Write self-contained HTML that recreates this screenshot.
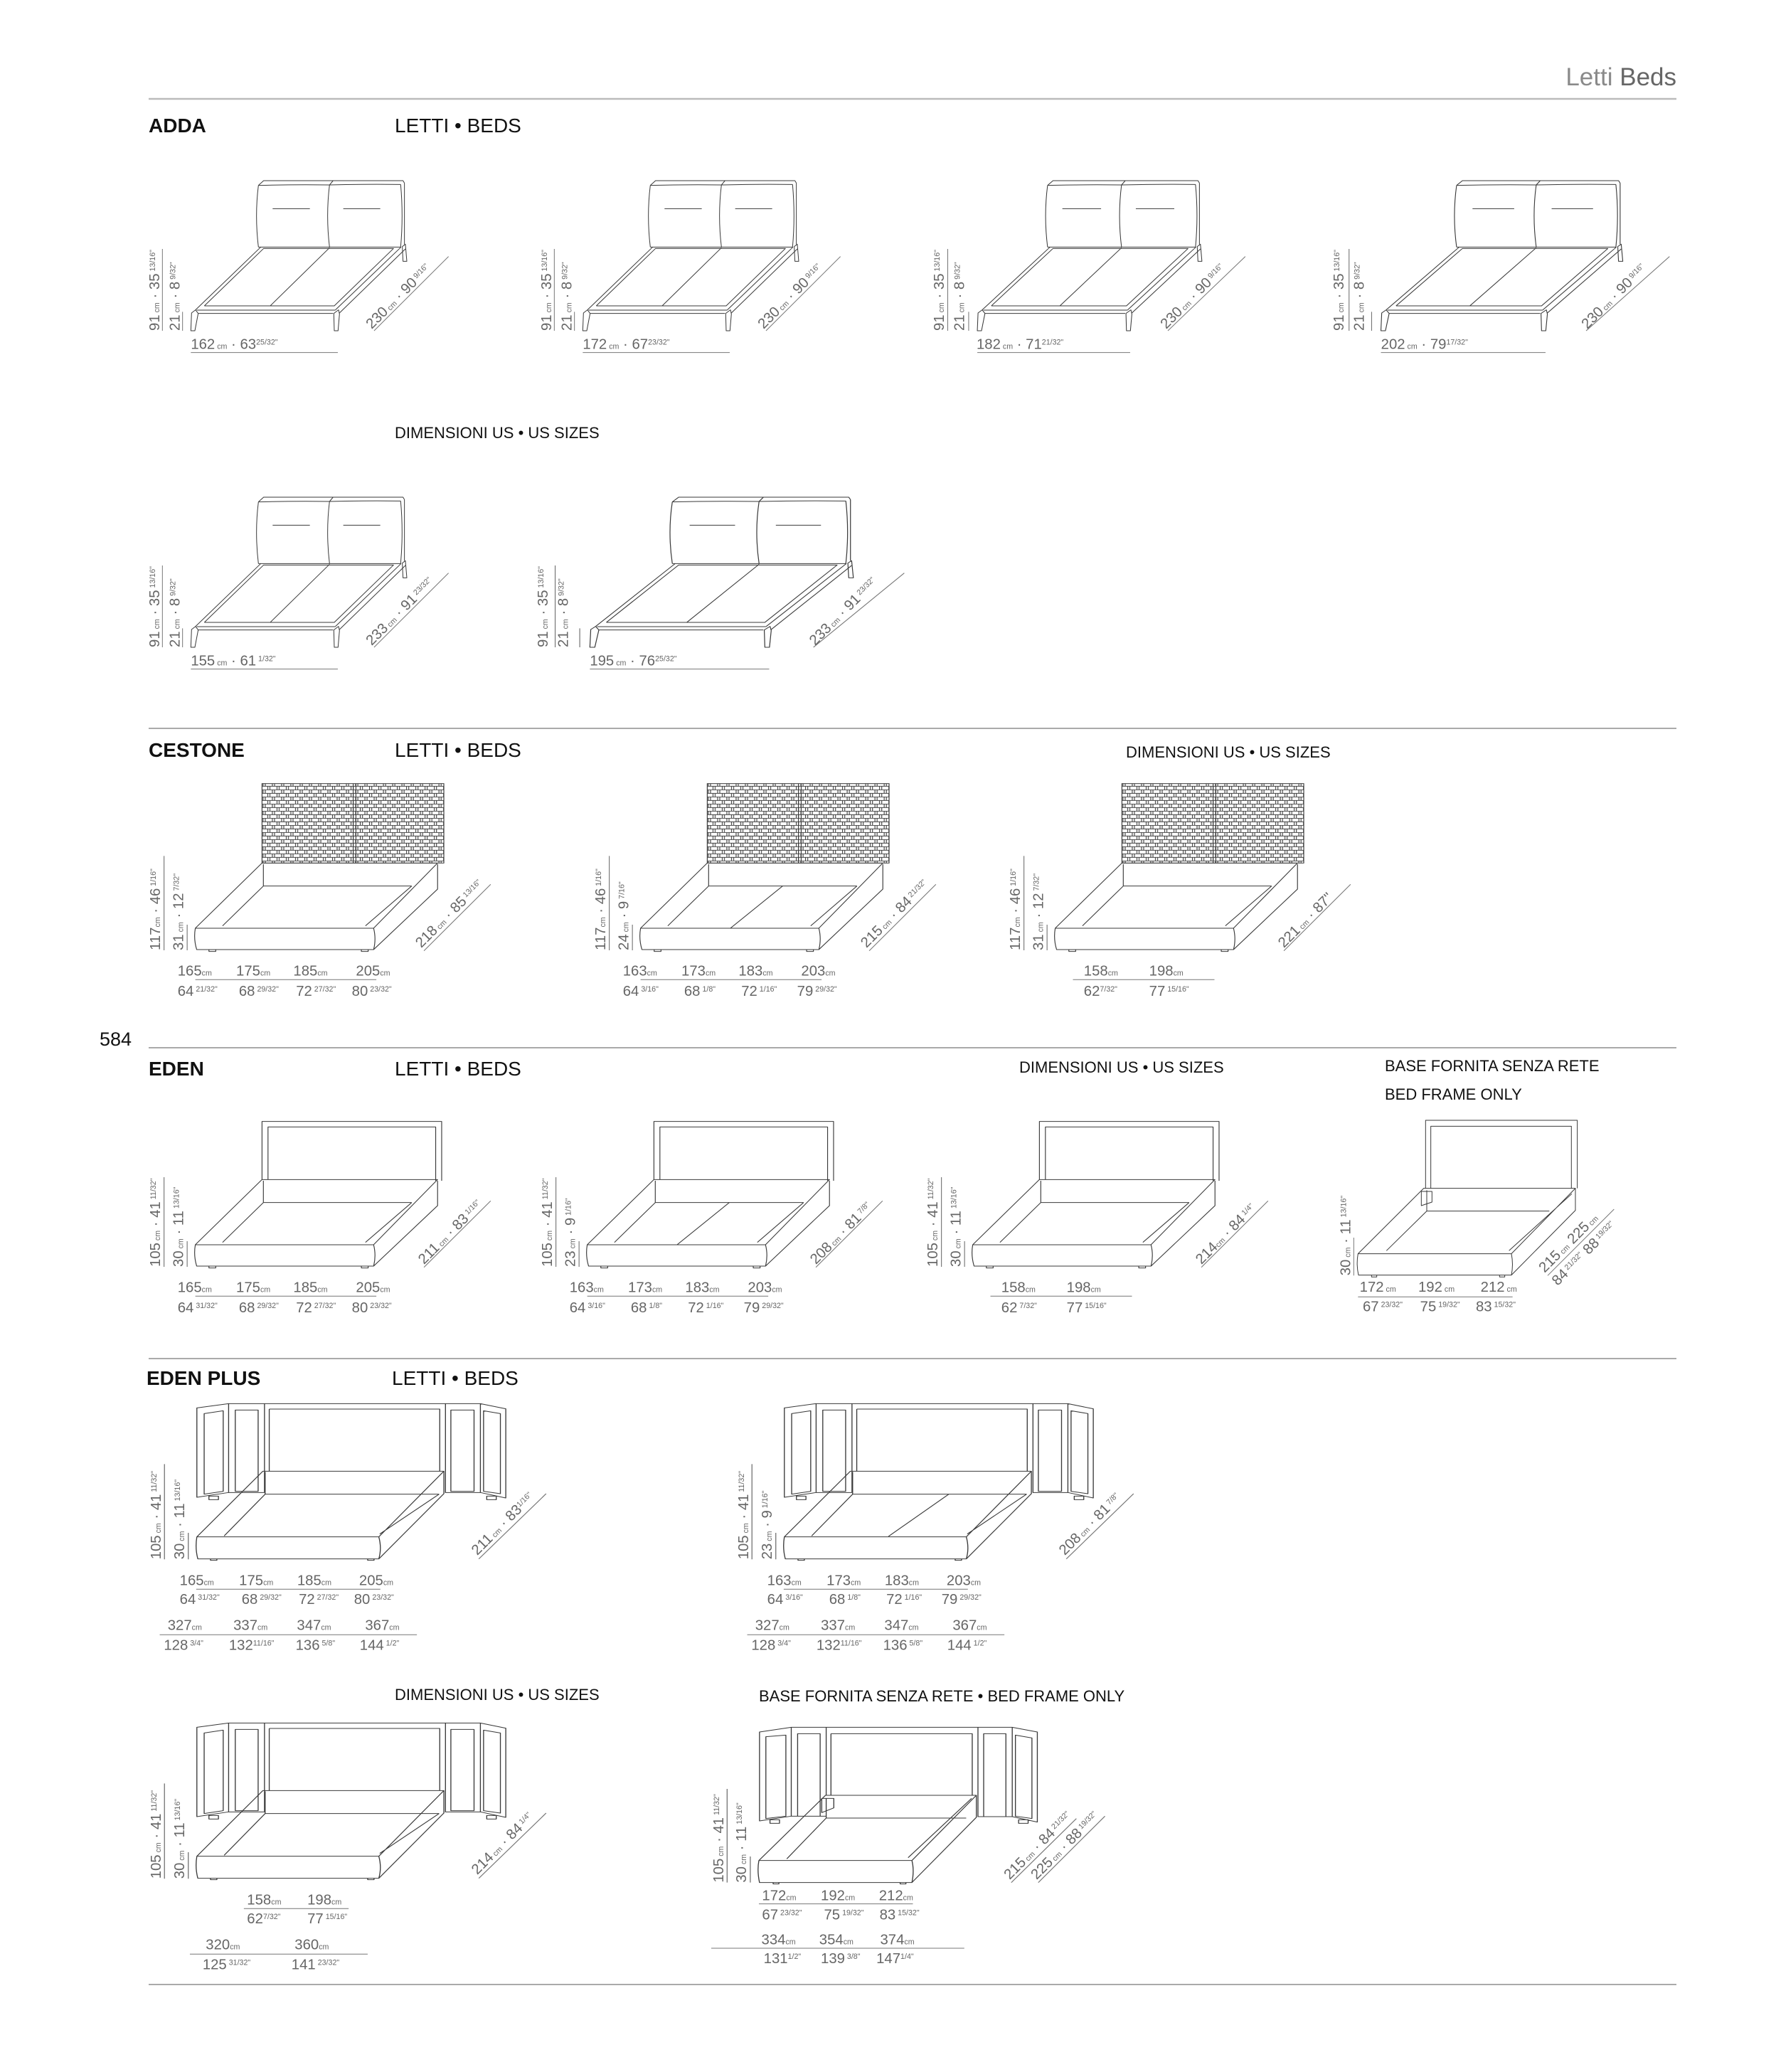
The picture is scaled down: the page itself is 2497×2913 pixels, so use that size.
<!DOCTYPE html>
<html><head><meta charset="utf-8"><style>
html,body{margin:0;padding:0;background:#fff}
svg{display:block}
.l{fill:none;stroke:#3a3a3a;stroke-width:3;stroke-linejoin:round}
.d{fill:none;stroke:#777;stroke-width:3}
.t{font-family:"Liberation Sans",sans-serif;font-size:61px;fill:#666}
.s{font-size:32px}
.h{font-family:"Liberation Sans",sans-serif;fill:#111}
</style></head><body>
<svg width="2497" height="2913" viewBox="0 0 2497 2913" xmlns="http://www.w3.org/2000/svg">
<defs>
<pattern id="wv" width="34" height="30" patternUnits="userSpaceOnUse">
<path d="M0,1H34 M0,16H34 M2,1V16 M19,16V30 M10,1V16 M27,16V30" stroke="#444" stroke-width="3" fill="none"/>
</pattern>
<g id="adda">
<path class="l" d="M490,92 L512,72 H1100 L1106,82 M805,72 L790,90 M490,92 Q640,88 790,90 Q940,86 1090,88 M490,92 Q474,220 490,352 M790,90 Q774,220 790,352 M1090,88 Q1102,220 1090,352 M1106,82 V340 M550,190 H707 M848,190 H1004 M490,352 H1090 M225,617 L500,352 M815,617 L1092,352 M830,632 L1110,360 M262,600 L512,358 H1060 L810,600 H262 M540,600 L790,355 M230,618 H815 M235,632 H805 M205,705 L208,630 L225,617 L236,632 L222,705 Z M810,705 L808,632 L828,617 L832,634 L826,705 Z M1100,412 L1097,350 L1110,340 L1116,412 Z"/>
<path class="d" d="M85,360 V705 M170,625 V705 M205,797 H825 M978,705 L1292,392"/>
</g>
<g id="base">
<path class="l" d="M195,615 H850 Q860,660 850,705 H200 Q188,660 195,615 Z M195,615 L440,340 H1085 L850,615 M1085,345 V450 L850,705 M445,345 V437 H990 M445,437 L295,605 M990,437 L820,605 M245,705 h25 v8 h-25 Z M805,705 h25 v8 h-25 Z"/>
</g>
<g id="cesthb">
<rect x="440" y="5" width="668" height="335" style="fill:url(#wv);stroke:#3a3a3a;stroke-width:3"/>
<path class="l" d="M775,5 V340 M785,5 V340"/>
</g>
<g id="edenhb">
<path class="l" d="M440,340 V95 H1100 V345 M462,340 V118 H1078 V345"/>
</g>
<g id="eplus">
<path class="l" d="M172,88 L272,70 V445 L172,465 Z M195,112 L255,100 V440 L195,452 Z M272,70 H1065 M272,445 H385 M293,97 H365 V440 H293 Z M385,70 V445 M400,93 H937 V355 M400,93 V355 M955,70 V445 H1065 M972,97 H1045 V440 H972 Z M1065,70 L1145,92 V468 L1065,445 Z M1075,100 L1128,112 V450 L1075,440 Z M210,460 h30 v15 h-30 Z M1085,460 h30 v15 h-30 Z"/>
<path class="l" d="M172,632 H745 Q755,680 745,725 H175 Q166,680 172,632 Z M172,632 L380,355 H950 L745,632 M950,355 V450 L745,725 M387,358 V452 H935 M387,452 L258,628 M935,452 L748,620 M215,725 h20 v6 h-20 Z M710,725 h20 v6 h-20 Z"/>
</g>
<g id="eplusf">
<path class="l" d="M152,165 L252,145 V520 L152,540 Z M172,185 L235,178 V520 L172,530 Z M252,145 H948 M252,520 H362 M272,172 H343 V520 H272 Z M362,145 V432 M377,172 H822 V432 M377,172 V432 M840,145 V522 H948 M858,172 H928 V522 H858 Z M948,145 L1027,165 V545 L948,522 Z M958,178 L1010,190 V530 L958,520 Z M185,535 h30 v15 h-30 Z M968,535 h30 v15 h-30 Z"/>
<path class="l" d="M150,707 H632 Q640,750 632,800 H152 Q144,750 150,707 Z M150,707 L360,432 H835 L632,707 M835,432 V525 L632,800 M362,445 V528 H803 M362,528 L238,700 M820,445 L620,695 M348,445 h38 v40 l-38,20 Z M195,800 h18 v6 h-18 Z M595,800 h18 v6 h-18 Z"/>
</g>
</defs>

<text class="h" x="2357" y="120" text-anchor="end" font-size="35"><tspan fill="#8a8a8a">Letti </tspan><tspan fill="#666">Beds</tspan></text>
<path d="M209,139 H2357" stroke="#bbb" stroke-width="2.5"/>
<path d="M209,1024 H2357 M209,1473 H2357 M209,1910 H2357 M209,2790 H2357" stroke="#aaa" stroke-width="2"/>
<text class="h" x="140" y="1470" font-size="27">584</text>

<text class="h" x="209" y="186" font-size="28" font-weight="bold">ADDA</text>
<text class="h" x="555" y="186" font-size="28">LETTI • BEDS</text>
<text class="h" x="555" y="616" font-size="22">DIMENSIONI US • US SIZES</text>
<text class="h" x="209" y="1064" font-size="28" font-weight="bold">CESTONE</text>
<text class="h" x="555" y="1064" font-size="28">LETTI • BEDS</text>
<text class="h" x="1583" y="1065" font-size="22">DIMENSIONI US • US SIZES</text>
<text class="h" x="209" y="1512" font-size="28" font-weight="bold">EDEN</text>
<text class="h" x="555" y="1512" font-size="28">LETTI • BEDS</text>
<text class="h" x="1433" y="1508" font-size="22">DIMENSIONI US • US SIZES</text>
<text class="h" x="1947" y="1506" font-size="22">BASE FORNITA SENZA RETE</text>
<text class="h" x="1947" y="1546" font-size="22">BED FRAME ONLY</text>
<text class="h" x="206" y="1947" font-size="28" font-weight="bold">EDEN PLUS</text>
<text class="h" x="551" y="1947" font-size="28">LETTI • BEDS</text>
<text class="h" x="555" y="2390" font-size="22">DIMENSIONI US • US SIZES</text>
<text class="h" x="1067" y="2392" font-size="22">BASE FORNITA SENZA RETE • BED FRAME ONLY</text>

<g transform="translate(200,230) scale(0.3333)">
<use href="#adda"/>
<text class="t" transform="translate(72,705) rotate(-90)">91<tspan class="s"> cm</tspan> · 35<tspan class="s" dy="-18"> 13/16"</tspan></text>
<text class="t" transform="translate(157,705) rotate(-90)">21<tspan class="s"> cm</tspan> · 8<tspan class="s" dy="-18"> 9/32"</tspan></text>
<text class="t" x="205" y="782">162<tspan class="s"> cm</tspan> · 63<tspan class="s" dy="-18">25/32"</tspan></text>
<text class="t" transform="translate(968,700) rotate(-45)">230<tspan class="s"> cm</tspan> · 90<tspan class="s" dy="-18"> 9/16"</tspan></text>
</g>
<g transform="translate(751,230) scale(0.3333)">
<use href="#adda"/>
<text class="t" transform="translate(72,705) rotate(-90)">91<tspan class="s"> cm</tspan> · 35<tspan class="s" dy="-18"> 13/16"</tspan></text>
<text class="t" transform="translate(157,705) rotate(-90)">21<tspan class="s"> cm</tspan> · 8<tspan class="s" dy="-18"> 9/32"</tspan></text>
<text class="t" x="205" y="782">172<tspan class="s"> cm</tspan> · 67<tspan class="s" dy="-18">23/32"</tspan></text>
<text class="t" transform="translate(968,700) rotate(-45)">230<tspan class="s"> cm</tspan> · 90<tspan class="s" dy="-18"> 9/16"</tspan></text>
</g>
<g transform="translate(1303,230) scale(0.3333)">
<use href="#adda" transform="scale(1.04,1)"/>
<text class="t" transform="translate(72,705) rotate(-90)">91<tspan class="s"> cm</tspan> · 35<tspan class="s" dy="-18"> 13/16"</tspan></text>
<text class="t" transform="translate(157,705) rotate(-90)">21<tspan class="s"> cm</tspan> · 8<tspan class="s" dy="-18"> 9/32"</tspan></text>
<text class="t" x="210" y="782">182<tspan class="s"> cm</tspan> · 71<tspan class="s" dy="-18">21/32"</tspan></text>
<text class="t" transform="translate(1010,700) rotate(-45)">230<tspan class="s"> cm</tspan> · 90<tspan class="s" dy="-18"> 9/16"</tspan></text>
</g>
<g transform="translate(1865,230) scale(0.3333)">
<use href="#adda" transform="scale(1.12,1)"/>
<text class="t" transform="translate(72,705) rotate(-90)">91<tspan class="s"> cm</tspan> · 35<tspan class="s" dy="-18"> 13/16"</tspan></text>
<text class="t" transform="translate(157,705) rotate(-90)">21<tspan class="s"> cm</tspan> · 8<tspan class="s" dy="-18"> 9/32"</tspan></text>
<text class="t" x="230" y="782">202<tspan class="s"> cm</tspan> · 79<tspan class="s" dy="-18">17/32"</tspan></text>
<text class="t" transform="translate(1100,700) rotate(-45)">230<tspan class="s"> cm</tspan> · 90<tspan class="s" dy="-18"> 9/16"</tspan></text>
</g>
<g transform="translate(200,675) scale(0.3333)">
<use href="#adda"/>
<text class="t" transform="translate(72,705) rotate(-90)">91<tspan class="s"> cm</tspan> · 35<tspan class="s" dy="-18"> 13/16"</tspan></text>
<text class="t" transform="translate(157,705) rotate(-90)">21<tspan class="s"> cm</tspan> · 8<tspan class="s" dy="-18"> 9/32"</tspan></text>
<text class="t" x="205" y="782">155<tspan class="s"> cm</tspan> · 61<tspan class="s" dy="-18"> 1/32"</tspan></text>
<text class="t" transform="translate(968,700) rotate(-45)">233<tspan class="s"> cm</tspan> · 91<tspan class="s" dy="-18"> 23/32"</tspan></text>
</g>
<g transform="translate(746,675) scale(0.3333)">
<use href="#adda" transform="scale(1.22,1)"/>
<text class="t" transform="translate(72,705) rotate(-90)">91<tspan class="s"> cm</tspan> · 35<tspan class="s" dy="-18"> 13/16"</tspan></text>
<text class="t" transform="translate(157,705) rotate(-90)">21<tspan class="s"> cm</tspan> · 8<tspan class="s" dy="-18"> 9/32"</tspan></text>
<text class="t" x="250" y="782">195<tspan class="s"> cm</tspan> · 76<tspan class="s" dy="-18">25/32"</tspan></text>
<text class="t" transform="translate(1200,700) rotate(-45)">233<tspan class="s"> cm</tspan> · 91<tspan class="s" dy="-18"> 23/32"</tspan></text>
</g>

<g transform="translate(200,1100) scale(0.3827,0.3333)">
<use href="#cesthb"/><use href="#base"/>
<path class="d" d="M80,310 V708 M165,600 V708 M195,832 H860 M1035,710 L1280,430"/>
<text class="t" transform="translate(65,708) scale(.871,1) rotate(-90)">117<tspan class="s">cm</tspan> · 46<tspan class="s" dy="-18"> 1/16"</tspan></text>
<text class="t" transform="translate(150,708) scale(.871,1) rotate(-90)">31<tspan class="s"> cm</tspan> · 12<tspan class="s" dy="-18"> 7/32"</tspan></text>
<text class="t" transform="translate(130,815) scale(.871,1)">165<tspan class="s">cm</tspan></text>
<text class="t" transform="translate(345,815) scale(.871,1)">175<tspan class="s">cm</tspan></text>
<text class="t" transform="translate(555,815) scale(.871,1)">185<tspan class="s">cm</tspan></text>
<text class="t" transform="translate(785,815) scale(.871,1)">205<tspan class="s">cm</tspan></text>
<text class="t" transform="translate(130,900) scale(.871,1)">64<tspan class="s" dy="-18"> 21/32"</tspan></text>
<text class="t" transform="translate(355,900) scale(.871,1)">68<tspan class="s" dy="-18"> 29/32"</tspan></text>
<text class="t" transform="translate(565,900) scale(.871,1)">72<tspan class="s" dy="-18"> 27/32"</tspan></text>
<text class="t" transform="translate(770,900) scale(.871,1)">80<tspan class="s" dy="-18"> 23/32"</tspan></text>
<text class="t" transform="translate(1025,700) scale(.871,1) rotate(-45)">218<tspan class="s"> cm</tspan> · 85<tspan class="s" dy="-18"> 13/16"</tspan></text>
</g>
<g transform="translate(826,1100) scale(0.3827,0.3333)">
<use href="#cesthb"/><use href="#base"/>
<path class="l" d="M717,437 L525,615"/>
<path class="d" d="M80,310 V708 M165,600 V708 M195,832 H860 M1035,710 L1280,430"/>
<text class="t" transform="translate(65,708) scale(.871,1) rotate(-90)">117<tspan class="s">cm</tspan> · 46<tspan class="s" dy="-18"> 1/16"</tspan></text>
<text class="t" transform="translate(150,708) scale(.871,1) rotate(-90)">24<tspan class="s"> cm</tspan> · 9<tspan class="s" dy="-18"> 7/16"</tspan></text>
<text class="t" transform="translate(130,815) scale(.871,1)">163<tspan class="s">cm</tspan></text>
<text class="t" transform="translate(345,815) scale(.871,1)">173<tspan class="s">cm</tspan></text>
<text class="t" transform="translate(555,815) scale(.871,1)">183<tspan class="s">cm</tspan></text>
<text class="t" transform="translate(785,815) scale(.871,1)">203<tspan class="s">cm</tspan></text>
<text class="t" transform="translate(130,900) scale(.871,1)">64<tspan class="s" dy="-18"> 3/16"</tspan></text>
<text class="t" transform="translate(355,900) scale(.871,1)">68<tspan class="s" dy="-18"> 1/8"</tspan></text>
<text class="t" transform="translate(565,900) scale(.871,1)">72<tspan class="s" dy="-18"> 1/16"</tspan></text>
<text class="t" transform="translate(770,900) scale(.871,1)">79<tspan class="s" dy="-18"> 29/32"</tspan></text>
<text class="t" transform="translate(1025,700) scale(.871,1) rotate(-45)">215<tspan class="s"> cm</tspan> · 84<tspan class="s" dy="-18"> 21/32"</tspan></text>
</g>
<g transform="translate(1409,1100) scale(0.3827,0.3333)">
<use href="#cesthb"/><use href="#base"/>
<path class="d" d="M80,310 V708 M165,600 V708 M260,832 H780 M1035,710 L1280,430"/>
<text class="t" transform="translate(65,708) scale(.871,1) rotate(-90)">117<tspan class="s">cm</tspan> · 46<tspan class="s" dy="-18"> 1/16"</tspan></text>
<text class="t" transform="translate(150,708) scale(.871,1) rotate(-90)">31<tspan class="s"> cm</tspan> · 12<tspan class="s" dy="-18"> 7/32"</tspan></text>
<text class="t" transform="translate(300,815) scale(.871,1)">158<tspan class="s">cm</tspan></text>
<text class="t" transform="translate(540,815) scale(.871,1)">198<tspan class="s">cm</tspan></text>
<text class="t" transform="translate(300,900) scale(.871,1)">62<tspan class="s" dy="-18">7/32"</tspan></text>
<text class="t" transform="translate(540,900) scale(.871,1)">77<tspan class="s" dy="-18"> 15/16"</tspan></text>
<text class="t" transform="translate(1035,700) scale(.871,1) rotate(-45)">221<tspan class="s"> cm</tspan> · 87"</text>
</g>

<g transform="translate(200,1545) scale(0.3827,0.3333)">
<use href="#edenhb"/><use href="#base"/>
<path class="d" d="M80,330 V708 M165,600 V708 M195,832 H860 M1035,710 L1280,430"/>
<text class="t" transform="translate(65,708) scale(.871,1) rotate(-90)">105<tspan class="s"> cm</tspan> · 41<tspan class="s" dy="-18"> 11/32"</tspan></text>
<text class="t" transform="translate(150,708) scale(.871,1) rotate(-90)">30<tspan class="s"> cm</tspan> · 11<tspan class="s" dy="-18"> 13/16"</tspan></text>
<text class="t" transform="translate(130,815) scale(.871,1)">165<tspan class="s">cm</tspan></text>
<text class="t" transform="translate(345,815) scale(.871,1)">175<tspan class="s">cm</tspan></text>
<text class="t" transform="translate(555,815) scale(.871,1)">185<tspan class="s">cm</tspan></text>
<text class="t" transform="translate(785,815) scale(.871,1)">205<tspan class="s">cm</tspan></text>
<text class="t" transform="translate(130,900) scale(.871,1)">64<tspan class="s" dy="-18"> 31/32"</tspan></text>
<text class="t" transform="translate(355,900) scale(.871,1)">68<tspan class="s" dy="-18"> 29/32"</tspan></text>
<text class="t" transform="translate(565,900) scale(.871,1)">72<tspan class="s" dy="-18"> 27/32"</tspan></text>
<text class="t" transform="translate(770,900) scale(.871,1)">80<tspan class="s" dy="-18"> 23/32"</tspan></text>
<text class="t" transform="translate(1035,700) scale(.871,1) rotate(-45)">211<tspan class="s"> cm</tspan> · 83<tspan class="s" dy="-18"> 1/16"</tspan></text>
</g>
<g transform="translate(751,1545) scale(0.3827,0.3333)">
<use href="#edenhb"/><use href="#base"/>
<path class="l" d="M717,437 L525,615"/>
<path class="d" d="M80,330 V708 M165,600 V708 M195,832 H860 M1035,710 L1280,430"/>
<text class="t" transform="translate(65,708) scale(.871,1) rotate(-90)">105<tspan class="s"> cm</tspan> · 41<tspan class="s" dy="-18"> 11/32"</tspan></text>
<text class="t" transform="translate(150,708) scale(.871,1) rotate(-90)">23<tspan class="s"> cm</tspan> · 9<tspan class="s" dy="-18"> 1/16"</tspan></text>
<text class="t" transform="translate(130,815) scale(.871,1)">163<tspan class="s">cm</tspan></text>
<text class="t" transform="translate(345,815) scale(.871,1)">173<tspan class="s">cm</tspan></text>
<text class="t" transform="translate(555,815) scale(.871,1)">183<tspan class="s">cm</tspan></text>
<text class="t" transform="translate(785,815) scale(.871,1)">203<tspan class="s">cm</tspan></text>
<text class="t" transform="translate(130,900) scale(.871,1)">64<tspan class="s" dy="-18"> 3/16"</tspan></text>
<text class="t" transform="translate(355,900) scale(.871,1)">68<tspan class="s" dy="-18"> 1/8"</tspan></text>
<text class="t" transform="translate(565,900) scale(.871,1)">72<tspan class="s" dy="-18"> 1/16"</tspan></text>
<text class="t" transform="translate(770,900) scale(.871,1)">79<tspan class="s" dy="-18"> 29/32"</tspan></text>
<text class="t" transform="translate(1035,700) scale(.871,1) rotate(-45)">208<tspan class="s"> cm</tspan> · 81<tspan class="s" dy="-18"> 7/8"</tspan></text>
</g>
<g transform="translate(1293,1545) scale(0.3827,0.3333)">
<use href="#edenhb"/><use href="#base"/>
<path class="d" d="M80,330 V708 M165,600 V708 M260,832 H780 M1035,710 L1280,430"/>
<text class="t" transform="translate(65,708) scale(.871,1) rotate(-90)">105<tspan class="s"> cm</tspan> · 41<tspan class="s" dy="-18"> 11/32"</tspan></text>
<text class="t" transform="translate(150,708) scale(.871,1) rotate(-90)">30<tspan class="s"> cm</tspan> · 11<tspan class="s" dy="-18"> 13/16"</tspan></text>
<text class="t" transform="translate(300,815) scale(.871,1)">158<tspan class="s">cm</tspan></text>
<text class="t" transform="translate(540,815) scale(.871,1)">198<tspan class="s">cm</tspan></text>
<text class="t" transform="translate(300,900) scale(.871,1)">62<tspan class="s" dy="-18"> 7/32"</tspan></text>
<text class="t" transform="translate(540,900) scale(.871,1)">77<tspan class="s" dy="-18"> 15/16"</tspan></text>
<text class="t" transform="translate(1035,700) scale(.871,1) rotate(-45)">214<tspan class="s">cm</tspan> · 84<tspan class="s" dy="-18"> 1/4"</tspan></text>
</g>
<g transform="translate(1900,1480) scale(0.3333)">
<path class="l" d="M313,572 V285 H953 V572 M335,572 V310 H928 V572"/>
<path class="l" d="M28,848 H675 Q684,893 675,938 H30 Q20,893 28,848 Z M28,848 L305,572 H945 L675,848 M945,572 V665 L675,938 M318,580 V668 H835 M318,668 L148,835 M930,595 L665,835 M295,585 h45 v45 l-45,15 Z M85,938 h22 v8 h-22 Z M625,938 h22 v8 h-22 Z"/>
<path class="d" d="M28,1030 H680 M10,780 V940 M828,940 L1108,660"/>
<text class="t" transform="translate(-5,940) rotate(-90)">30<tspan class="s"> cm</tspan> · 11<tspan class="s" dy="-18"> 13/16"</tspan></text>
<text class="t" x="35" y="1008">172<tspan class="s"> cm</tspan></text>
<text class="t" x="282" y="1008">192<tspan class="s"> cm</tspan></text>
<text class="t" x="545" y="1008">212<tspan class="s"> cm</tspan></text>
<text class="t" x="48" y="1090">67<tspan class="s" dy="-18"> 23/32"</tspan></text>
<text class="t" x="290" y="1090">75<tspan class="s" dy="-18"> 19/32"</tspan></text>
<text class="t" x="525" y="1090">83<tspan class="s" dy="-18"> 15/32"</tspan></text>
<text class="t" transform="translate(815,930) rotate(-45)">215<tspan class="s"> cm</tspan>  225<tspan class="s"> cm</tspan></text>
<text class="t" transform="translate(870,985) rotate(-45)">84<tspan class="s" dy="-18"> 21/32"</tspan><tspan dy="18"> 88</tspan><tspan class="s" dy="-18"> 19/32"</tspan></text>
</g>

<g transform="translate(200,1950) scale(0.4464,0.3333)">
<use href="#eplus"/>
<path class="d" d="M70,325 V727 M145,615 V727 M170,853 H750 M55,1045 H865 M1060,725 L1272,450"/>
<text class="t" transform="translate(58,727) scale(.747,1) rotate(-90)">105<tspan class="s"> cm</tspan> · 41<tspan class="s" dy="-18"> 11/32"</tspan></text>
<text class="t" transform="translate(132,727) scale(.747,1) rotate(-90)">30<tspan class="s"> cm</tspan> · 11<tspan class="s" dy="-18"> 13/16"</tspan></text>
<text class="t" transform="translate(118,835) scale(.747,1)">165<tspan class="s">cm</tspan></text>
<text class="t" transform="translate(305,835) scale(.747,1)">175<tspan class="s">cm</tspan></text>
<text class="t" transform="translate(488,835) scale(.747,1)">185<tspan class="s">cm</tspan></text>
<text class="t" transform="translate(683,835) scale(.747,1)">205<tspan class="s">cm</tspan></text>
<text class="t" transform="translate(118,915) scale(.747,1)">64<tspan class="s" dy="-18"> 31/32"</tspan></text>
<text class="t" transform="translate(313,915) scale(.747,1)">68<tspan class="s" dy="-18"> 29/32"</tspan></text>
<text class="t" transform="translate(493,915) scale(.747,1)">72<tspan class="s" dy="-18"> 27/32"</tspan></text>
<text class="t" transform="translate(667,915) scale(.747,1)">80<tspan class="s" dy="-18"> 23/32"</tspan></text>
<text class="t" transform="translate(80,1025) scale(.747,1)">327<tspan class="s">cm</tspan></text>
<text class="t" transform="translate(287,1025) scale(.747,1)">337<tspan class="s">cm</tspan></text>
<text class="t" transform="translate(487,1025) scale(.747,1)">347<tspan class="s">cm</tspan></text>
<text class="t" transform="translate(702,1025) scale(.747,1)">367<tspan class="s">cm</tspan></text>
<text class="t" transform="translate(68,1108) scale(.747,1)">128<tspan class="s" dy="-18"> 3/4"</tspan></text>
<text class="t" transform="translate(273,1108) scale(.747,1)">132<tspan class="s" dy="-18">11/16"</tspan></text>
<text class="t" transform="translate(483,1108) scale(.747,1)">136<tspan class="s" dy="-18"> 5/8"</tspan></text>
<text class="t" transform="translate(685,1108) scale(.747,1)">144<tspan class="s" dy="-18"> 1/2"</tspan></text>
<text class="t" transform="translate(1055,712) scale(.747,1) rotate(-45)">211<tspan class="s"> cm</tspan> · 83<tspan class="s" dy="-18">1/16"</tspan></text>
</g>
<g transform="translate(1026,1950) scale(0.4464,0.3333)">
<use href="#eplus"/>
<path class="l" d="M690,452 L500,630"/>
<path class="d" d="M70,325 V727 M145,615 V727 M170,853 H750 M55,1045 H865 M1060,725 L1272,450"/>
<text class="t" transform="translate(58,727) scale(.747,1) rotate(-90)">105<tspan class="s"> cm</tspan> · 41<tspan class="s" dy="-18"> 11/32"</tspan></text>
<text class="t" transform="translate(132,727) scale(.747,1) rotate(-90)">23<tspan class="s"> cm</tspan> · 9<tspan class="s" dy="-18"> 1/16"</tspan></text>
<text class="t" transform="translate(118,835) scale(.747,1)">163<tspan class="s">cm</tspan></text>
<text class="t" transform="translate(305,835) scale(.747,1)">173<tspan class="s">cm</tspan></text>
<text class="t" transform="translate(488,835) scale(.747,1)">183<tspan class="s">cm</tspan></text>
<text class="t" transform="translate(683,835) scale(.747,1)">203<tspan class="s">cm</tspan></text>
<text class="t" transform="translate(118,915) scale(.747,1)">64<tspan class="s" dy="-18"> 3/16"</tspan></text>
<text class="t" transform="translate(313,915) scale(.747,1)">68<tspan class="s" dy="-18"> 1/8"</tspan></text>
<text class="t" transform="translate(493,915) scale(.747,1)">72<tspan class="s" dy="-18"> 1/16"</tspan></text>
<text class="t" transform="translate(667,915) scale(.747,1)">79<tspan class="s" dy="-18"> 29/32"</tspan></text>
<text class="t" transform="translate(80,1025) scale(.747,1)">327<tspan class="s">cm</tspan></text>
<text class="t" transform="translate(287,1025) scale(.747,1)">337<tspan class="s">cm</tspan></text>
<text class="t" transform="translate(487,1025) scale(.747,1)">347<tspan class="s">cm</tspan></text>
<text class="t" transform="translate(702,1025) scale(.747,1)">367<tspan class="s">cm</tspan></text>
<text class="t" transform="translate(68,1108) scale(.747,1)">128<tspan class="s" dy="-18"> 3/4"</tspan></text>
<text class="t" transform="translate(273,1108) scale(.747,1)">132<tspan class="s" dy="-18">11/16"</tspan></text>
<text class="t" transform="translate(483,1108) scale(.747,1)">136<tspan class="s" dy="-18"> 5/8"</tspan></text>
<text class="t" transform="translate(685,1108) scale(.747,1)">144<tspan class="s" dy="-18"> 1/2"</tspan></text>
<text class="t" transform="translate(1055,712) scale(.747,1) rotate(-45)">208<tspan class="s"> cm</tspan> · 81<tspan class="s" dy="-18"> 7/8"</tspan></text>
</g>
<g transform="translate(200,2399) scale(0.4464,0.3333)">
<use href="#eplus"/>
<path class="d" d="M70,325 V727 M145,615 V727 M320,853 H650 M150,1045 H710 M1060,725 L1272,450"/>
<text class="t" transform="translate(58,727) scale(.747,1) rotate(-90)">105<tspan class="s"> cm</tspan> · 41<tspan class="s" dy="-18"> 11/32"</tspan></text>
<text class="t" transform="translate(132,727) scale(.747,1) rotate(-90)">30<tspan class="s"> cm</tspan> · 11<tspan class="s" dy="-18"> 13/16"</tspan></text>
<text class="t" transform="translate(330,835) scale(.747,1)">158<tspan class="s">cm</tspan></text>
<text class="t" transform="translate(520,835) scale(.747,1)">198<tspan class="s">cm</tspan></text>
<text class="t" transform="translate(330,915) scale(.747,1)">62<tspan class="s" dy="-18">7/32"</tspan></text>
<text class="t" transform="translate(520,915) scale(.747,1)">77<tspan class="s" dy="-18"> 15/16"</tspan></text>
<text class="t" transform="translate(200,1025) scale(.747,1)">320<tspan class="s">cm</tspan></text>
<text class="t" transform="translate(480,1025) scale(.747,1)">360<tspan class="s">cm</tspan></text>
<text class="t" transform="translate(190,1108) scale(.747,1)">125<tspan class="s" dy="-18"> 31/32"</tspan></text>
<text class="t" transform="translate(470,1108) scale(.747,1)">141<tspan class="s" dy="-18"> 23/32"</tspan></text>
<text class="t" transform="translate(1055,712) scale(.747,1) rotate(-45)">214<tspan class="s"> cm</tspan> · 84<tspan class="s" dy="-18"> 1/4"</tspan></text>
</g>
<g transform="translate(1000,2380) scale(0.4464,0.3333)">
<use href="#eplusf"/>
<path class="d" d="M50,405 V800 M123,690 V800 M150,890 H635 M0,1077 H797 M945,800 L1150,530 M1030,800 L1240,520"/>
<text class="t" transform="translate(38,800) scale(.747,1) rotate(-90)">105<tspan class="s"> cm</tspan> · 41<tspan class="s" dy="-18"> 11/32"</tspan></text>
<text class="t" transform="translate(110,800) scale(.747,1) rotate(-90)">30<tspan class="s"> cm</tspan> · 11<tspan class="s" dy="-18"> 13/16"</tspan></text>
<text class="t" transform="translate(160,875) scale(.747,1)">172<tspan class="s">cm</tspan></text>
<text class="t" transform="translate(345,875) scale(.747,1)">192<tspan class="s">cm</tspan></text>
<text class="t" transform="translate(528,875) scale(.747,1)">212<tspan class="s">cm</tspan></text>
<text class="t" transform="translate(160,955) scale(.747,1)">67<tspan class="s" dy="-18"> 23/32"</tspan></text>
<text class="t" transform="translate(355,955) scale(.747,1)">75<tspan class="s" dy="-18"> 19/32"</tspan></text>
<text class="t" transform="translate(530,955) scale(.747,1)">83<tspan class="s" dy="-18"> 15/32"</tspan></text>
<text class="t" transform="translate(158,1060) scale(.747,1)">334<tspan class="s">cm</tspan></text>
<text class="t" transform="translate(340,1060) scale(.747,1)">354<tspan class="s">cm</tspan></text>
<text class="t" transform="translate(532,1060) scale(.747,1)">374<tspan class="s">cm</tspan></text>
<text class="t" transform="translate(165,1140) scale(.747,1)">131<tspan class="s" dy="-18">1/2"</tspan></text>
<text class="t" transform="translate(345,1140) scale(.747,1)">139<tspan class="s" dy="-18"> 3/8"</tspan></text>
<text class="t" transform="translate(520,1140) scale(.747,1)">147<tspan class="s" dy="-18">1/4"</tspan></text>
<text class="t" transform="translate(940,790) scale(.747,1) rotate(-45)">215<tspan class="s"> cm</tspan> · 84<tspan class="s" dy="-18"> 21/32"</tspan></text>
<text class="t" transform="translate(1025,790) scale(.747,1) rotate(-45)">225<tspan class="s"> cm</tspan> · 88<tspan class="s" dy="-18"> 19/32"</tspan></text>
</g>
</svg>
</body></html>
